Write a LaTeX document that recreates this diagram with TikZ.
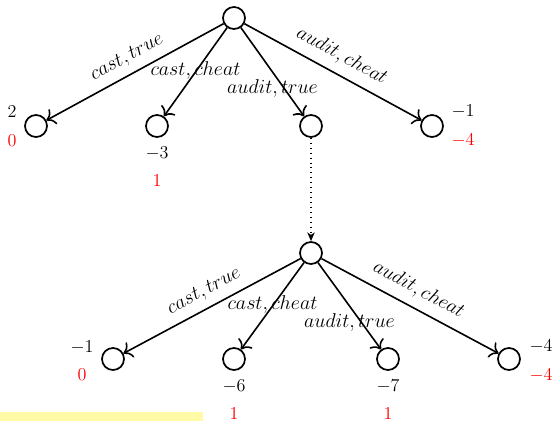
\documentclass[tikz,border=0pt]{standalone}
\usepackage{fix-cm}
\usetikzlibrary{calc,arrows.meta}
\begin{document}
\begin{tikzpicture}[x=0.75pt,y=-0.75pt,
  font=\fontsize{13.6}{16}\selectfont,
  state/.style={circle,draw,line width=1.3pt,minimum size=16.5pt,inner sep=0pt},
  edgeline/.style={-{To[scale=1.45]},line width=1.2pt},
  elab/.style={inner sep=3pt,font=\fontsize{15}{18}\selectfont},
  pay/.style={inner sep=0pt},
  payred/.style={inner sep=0pt,text=red}]
\useasboundingbox (0,0) rectangle (553,421);
\fill[yellow!35] (0,411.7) rectangle (203,421);
% top level
\node[state] (r) at (234,18) {};
\node[state] (a) at (36,126) {};
\node[state] (b) at (157,126) {};
\node[state] (c) at (311,126) {};
\node[state] (d) at (432,126) {};
\draw[edgeline] (r) -- node[elab,sloped,above,pos=0.5,yshift=2.7pt] {$cast, true$} (a);
\draw[edgeline] (r) -- node[elab,pos=0.5,yshift=1pt] {$cast, cheat$} (b);
\draw[edgeline] (r) -- node[elab,pos=0.5,yshift=-12.5pt] {$audit, true$} (c);
\draw[edgeline] (r) -- node[elab,sloped,above,pos=0.5,yshift=3.4pt] {$audit, cheat$} (d);
% bottom level
\node[state] (s) at (311,253) {};
\node[state] (e) at (113,359) {};
\node[state] (f) at (234,359) {};
\node[state] (g) at (388,359) {};
\node[state] (h) at (509,359) {};
\draw[line width=1.2pt,dash pattern=on 0.5pt off 3.2pt,-{Stealth[length=6.5pt,width=5.5pt,inset=1.8pt]}] (c) -- (s);
\draw[edgeline] (s) -- node[elab,sloped,above,pos=0.5,yshift=2.7pt] {$cast, true$} (e);
\draw[edgeline] (s) -- node[elab,pos=0.5,yshift=1pt] {$cast, cheat$} (f);
\draw[edgeline] (s) -- node[elab,pos=0.5,yshift=-12.5pt] {$audit, true$} (g);
\draw[edgeline] (s) -- node[elab,sloped,above,pos=0.5,yshift=3.4pt] {$audit, cheat$} (h);
% payoffs
\node[pay] (a1) at ([shift={(-24,-14)}]a) {$2$};
\node[payred] (a2) at ([shift={(-24,15)}]a) {$0$};
\node[pay] (b1) at ([shift={(0,27)}]b) {$-3$};
\node[payred] (b2) at ([shift={(0,55)}]b) {$1$};
\node[pay] (d1) at ([shift={(31,-15)}]d) {$-1$};
\node[payred] (d2) at ([shift={(31,14)}]d) {$-4$};
\node[pay] (e1) at ([shift={(-31,-12)}]e) {$-1$};
\node[payred] (e2) at ([shift={(-31,16)}]e) {$0$};
\node[pay] (f1) at ([shift={(0,27)}]f) {$-6$};
\node[payred] (f2) at ([shift={(0,55)}]f) {$1$};
\node[pay] (g1) at ([shift={(0,27)}]g) {$-7$};
\node[payred] (g2) at ([shift={(0,55)}]g) {$1$};
\node[pay] (h1) at ([shift={(32,-13)}]h) {$-4$};
\node[payred] (h2) at ([shift={(32,16)}]h) {$-4$};
\end{tikzpicture}
\end{document}
